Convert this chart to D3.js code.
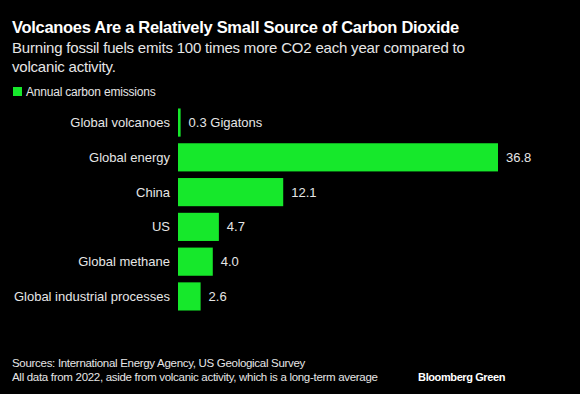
<!DOCTYPE html>
<html>
<head>
<meta charset="utf-8">
<script src="https://cdn.jsdelivr.net/npm/d3@7"></script>
<style>
  html, body { margin: 0; padding: 0; background: #000; }
  svg { display: block; }
</style>
</head>
<body>
<script>
const categories = ["Global volcanoes", "Global energy", "China", "US", "Global methane", "Global industrial processes"];
const values = [0.3, 36.8, 12.1, 4.7, 4.0, 2.6];
const valueLabels = ["0.3 Gigatons", "36.8", "12.1", "4.7", "4.0", "2.6"];

const WIDTH = 580;
const HEIGHT = 394;
const GREEN = "#16e82b";
const FONT = "'Liberation Sans', Arial, sans-serif";

var svg = d3.select("body")
    .append("svg")
    .attr("width", WIDTH)
    .attr("height", HEIGHT);

svg.append("rect")
    .attr("width", WIDTH)
    .attr("height", HEIGHT)
    .attr("fill", "#000");

// title + subtitle
svg.append("text")
    .attr("x", 12).attr("y", 33)
    .attr("font-family", FONT).attr("font-size", "16.5px").attr("font-weight", 700)
    .attr("letter-spacing", "-0.3")
    .attr("fill", "#fff")
    .text("Volcanoes Are a Relatively Small Source of Carbon Dioxide");

["Burning fossil fuels emits 100 times more CO2 each year compared to", "volcanic activity."]
    .forEach((line, i) => {
        svg.append("text")
            .attr("x", 12).attr("y", 53 + i * 19)
            .attr("font-family", FONT).attr("font-size", "15px")
            .attr("letter-spacing", "-0.2")
            .attr("fill", "#e6e6e6")
            .text(line);
    });

// legend
svg.append("rect")
    .attr("x", 13).attr("y", 87).attr("width", 9).attr("height", 9)
    .attr("fill", GREEN);
svg.append("text")
    .attr("x", 26).attr("y", 96)
    .attr("font-family", FONT).attr("font-size", "12px")
    .attr("letter-spacing", "-0.2")
    .attr("fill", "#e6e6e6")
    .text("Annual carbon emissions");

// scales
var xScale = d3.scaleLinear()
    .domain([0, 36.8])
    .range([178, 498]);

var yScale = d3.scaleBand()
    .domain(categories)
    .range([105, 314])
    .paddingInner(0.19)
    .paddingOuter(0.1);

var rows = categories.map((c, i) => ({ cat: c, val: values[i], label: valueLabels[i] }));

svg.selectAll("rect.bar")
    .data(rows)
    .enter()
    .append("rect")
    .attr("class", "bar")
    .attr("x", xScale(0))
    .attr("y", d => yScale(d.cat))
    .attr("width", d => Math.max(2, xScale(d.val) - xScale(0)))
    .attr("height", yScale.bandwidth())
    .attr("fill", GREEN);

svg.selectAll("text.cat")
    .data(rows)
    .enter()
    .append("text")
    .attr("class", "cat")
    .attr("x", 170)
    .attr("y", d => yScale(d.cat) + yScale.bandwidth() / 2)
    .attr("dy", "0.35em")
    .attr("text-anchor", "end")
    .attr("font-family", FONT).attr("font-size", "13px")
    .attr("fill", "#e6e6e6")
    .text(d => d.cat);

svg.selectAll("text.val")
    .data(rows)
    .enter()
    .append("text")
    .attr("class", "val")
    .attr("x", d => Math.max(xScale(d.val), xScale(0) + 2) + 8)
    .attr("y", d => yScale(d.cat) + yScale.bandwidth() / 2)
    .attr("dy", "0.35em")
    .attr("font-family", FONT).attr("font-size", "13px")
    .attr("fill", "#e6e6e6")
    .text(d => d.label);

// footer
["Sources: International Energy Agency, US Geological Survey",
 "All data from 2022, aside from volcanic activity, which is a long-term average"]
    .forEach((line, i) => {
        svg.append("text")
            .attr("x", 12).attr("y", 367 + i * 14)
            .attr("font-family", FONT).attr("font-size", "11.5px")
            .attr("letter-spacing", "-0.3")
            .attr("fill", "#e6e6e6")
            .text(line);
    });

svg.append("text")
    .attr("x", 505).attr("y", 381)
    .attr("text-anchor", "end")
    .attr("font-family", FONT).attr("font-size", "11px").attr("font-weight", 700)
    .attr("letter-spacing", "-0.4")
    .attr("fill", "#fff")
    .text("Bloomberg Green");
</script>
</body>
</html>
